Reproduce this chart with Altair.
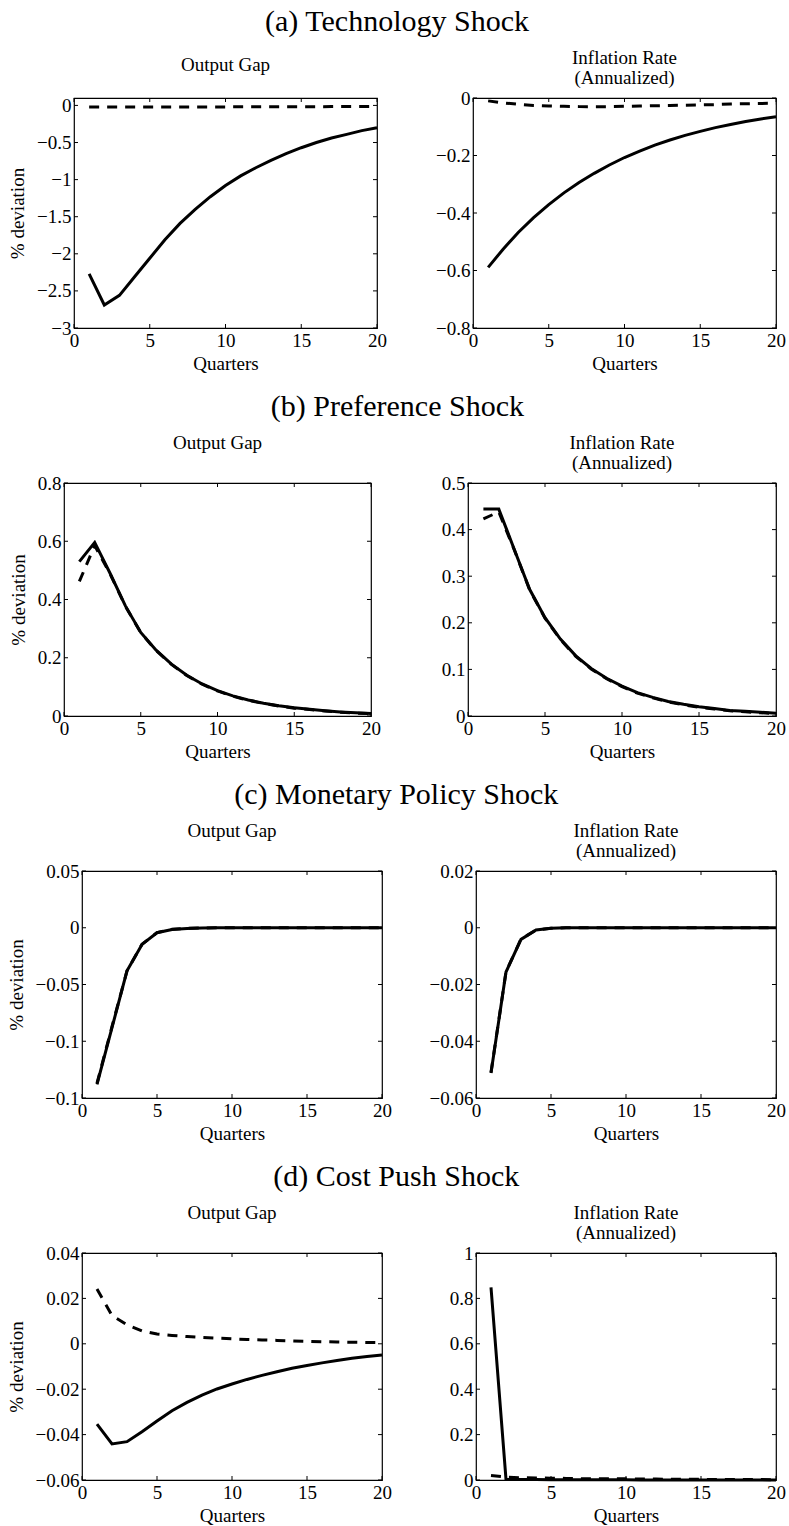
import altair as alt
import pandas as pd

FONT = "Liberation Serif"

quarters = list(range(1, 21))
x_ticks = [0, 5, 10, 15, 20]

# (a) Technology shock
tech_gap_solid = [-2.27, -2.69, -2.56, -2.31, -2.06, -1.81, -1.59, -1.40, -1.23, -1.08,
                  -0.95, -0.84, -0.74, -0.65, -0.57, -0.50, -0.44, -0.39, -0.34, -0.30]
tech_gap_dashed = [-0.020, -0.021, -0.022, -0.022, -0.022, -0.022, -0.021, -0.021, -0.020, -0.020,
                   -0.019, -0.019, -0.018, -0.018, -0.017, -0.017, -0.016, -0.016, -0.015, -0.015]
tech_inf_solid = [-0.589, -0.525, -0.467, -0.416, -0.371, -0.330, -0.294, -0.262, -0.233, -0.207,
                  -0.185, -0.164, -0.146, -0.130, -0.116, -0.103, -0.092, -0.082, -0.073, -0.065]
tech_inf_dashed = [-0.010, -0.017, -0.022, -0.026, -0.028, -0.029, -0.030, -0.030, -0.030, -0.029,
                   -0.028, -0.027, -0.026, -0.025, -0.024, -0.023, -0.021, -0.020, -0.019, -0.018]

# (b) Preference shock
pref_gap_solid = [0.530, 0.596, 0.490, 0.378, 0.287, 0.226, 0.178, 0.140, 0.110, 0.087,
                  0.069, 0.055, 0.044, 0.035, 0.028, 0.023, 0.018, 0.014, 0.011, 0.009]
pref_gap_dashed = [0.462, 0.585, 0.488, 0.377, 0.286, 0.225, 0.177, 0.139, 0.109, 0.086,
                   0.068, 0.054, 0.043, 0.034, 0.027, 0.022, 0.017, 0.013, 0.010, 0.008]
pref_inf_solid = [0.444, 0.444, 0.358, 0.272, 0.211, 0.165, 0.129, 0.102, 0.081, 0.064,
                  0.050, 0.040, 0.031, 0.025, 0.020, 0.016, 0.012, 0.010, 0.008, 0.006]
pref_inf_dashed = [0.423, 0.438, 0.357, 0.271, 0.210, 0.164, 0.128, 0.101, 0.080, 0.063,
                   0.049, 0.039, 0.030, 0.024, 0.019, 0.015, 0.011, 0.009, 0.007, 0.005]

# (c) Monetary policy shock
mon_gap_solid = [-0.138, -0.088, -0.038, -0.0147, -0.0044, -0.0015, -0.0006, -0.0002, -0.0001, 0.0,
                 0.0, 0.0, 0.0, 0.0, 0.0, 0.0, 0.0, 0.0, 0.0, 0.0]
mon_gap_dashed = [-0.137, -0.087, -0.038, -0.0145, -0.0043, -0.0014, -0.0005, -0.0002, -0.0001, 0.0,
                  0.0, 0.0, 0.0, 0.0, 0.0, 0.0, 0.0, 0.0, 0.0, 0.0]
mon_inf_solid = [-0.0512, -0.0156, -0.0041, -0.0008, -0.0002, 0.0, 0.0, 0.0, 0.0, 0.0,
                 0.0, 0.0, 0.0, 0.0, 0.0, 0.0, 0.0, 0.0, 0.0, 0.0]
mon_inf_dashed = [-0.0510, -0.0155, -0.0040, -0.0008, -0.0002, 0.0, 0.0, 0.0, 0.0, 0.0,
                  0.0, 0.0, 0.0, 0.0, 0.0, 0.0, 0.0, 0.0, 0.0, 0.0]

# (d) Cost push shock
cost_gap_solid = [-0.0354, -0.0441, -0.0431, -0.0387, -0.0340, -0.0295, -0.0258, -0.0226, -0.0199, -0.0177,
                  -0.0157, -0.0139, -0.0123, -0.0108, -0.0096, -0.0084, -0.0074, -0.0064, -0.0056, -0.0049]
cost_gap_dashed = [0.0241, 0.0125, 0.0084, 0.0057, 0.0043, 0.0037, 0.0032, 0.0028, 0.0025, 0.0022,
                   0.0019, 0.0017, 0.0015, 0.0013, 0.0011, 0.0009, 0.0008, 0.0007, 0.0006, 0.0005]
cost_inf_solid = [0.849, 0.003, 0.002, 0.002, 0.001, 0.001, 0.001, 0.001, 0.001, 0.001,
                  0.0005, 0.0005, 0.0005, 0.0005, 0.0005, 0.0005, 0.0005, 0.0005, 0.0005, 0.0005]
cost_inf_dashed = [0.020, 0.013, 0.010, 0.009, 0.008, 0.007, 0.006, 0.006, 0.005, 0.005,
                   0.004, 0.004, 0.003, 0.003, 0.003, 0.002, 0.002, 0.002, 0.002, 0.001]

section_titles = ["(a) Technology Shock", "(b) Preference Shock",
                  "(c) Monetary Policy Shock", "(d) Cost Push Shock"]
gap_title = "Output Gap"
inf_title = ["Inflation Rate", "(Annualized)"]

y_domains = {
    "tech_gap": [-3, 0.1], "tech_inf": [-0.8, 0],
    "pref_gap": [0, 0.8], "pref_inf": [0, 0.5],
    "mon_gap": [-0.15, 0.05], "mon_inf": [-0.06, 0.02],
    "cost_gap": [-0.06, 0.04], "cost_inf": [0, 1],
}
y_ticks = {
    "tech_gap": [-3, -2.5, -2, -1.5, -1, -0.5, 0],
    "tech_inf": [-0.8, -0.6, -0.4, -0.2, 0],
    "pref_gap": [0, 0.2, 0.4, 0.6, 0.8],
    "pref_inf": [0, 0.1, 0.2, 0.3, 0.4, 0.5],
    "mon_gap": [-0.15, -0.1, -0.05, 0, 0.05],
    "mon_inf": [-0.06, -0.04, -0.02, 0, 0.02],
    "cost_gap": [-0.06, -0.04, -0.02, 0, 0.02, 0.04],
    "cost_inf": [0, 0.2, 0.4, 0.6, 0.8, 1],
}

TICK = 4
FS = 19


def panel(key, solid, dashed, left, width, height):
    xs = alt.Scale(domain=[0, 20], nice=False, zero=False)
    ys = alt.Scale(domain=y_domains[key], nice=False, zero=False)
    xaxis = alt.Axis(values=x_ticks, title="Quarters", format="~g", ticks=False, tickSize=0,
                     labelPadding=3, titlePadding=4, grid=False, domain=False,
                     labelFlush=False, labelOverlap=False)
    if left:
        yaxis = alt.Axis(values=y_ticks[key], title="% deviation", format="~g", ticks=False,
                         tickSize=0, labelPadding=3, titlePadding=9, grid=False, domain=False,
                         labelFlush=False, labelOverlap=False)
        title = alt.TitleParams(gap_title, offset=21, anchor="middle", frame="group")
    else:
        yaxis = alt.Axis(values=y_ticks[key], title=None, format="~g", ticks=False,
                         tickSize=0, labelPadding=3, grid=False, domain=False,
                         labelFlush=False, labelOverlap=False)
        title = alt.TitleParams(inf_title, offset=1, anchor="middle", frame="group")

    df_s = pd.DataFrame({"q": quarters, "v": solid})
    df_d = pd.DataFrame({"q": quarters, "v": dashed})
    df_xt = pd.DataFrame({"q": x_ticks})
    df_yt = pd.DataFrame({"v": y_ticks[key]})

    X = alt.X("q:Q", scale=xs, axis=xaxis)
    Y = alt.Y("v:Q", scale=ys, axis=yaxis)

    solid_line = alt.Chart(df_s).mark_line(color="black", strokeWidth=3).encode(x=X, y=Y)
    dashed_line = alt.Chart(df_d).mark_line(color="black", strokeWidth=3, strokeDash=[10, 8]).encode(x=X, y=Y)
    tb = alt.Chart(df_xt).mark_rule(color="black", strokeWidth=1).encode(
        x=X, y=alt.value(height), y2=alt.value(height - TICK))
    tt = alt.Chart(df_xt).mark_rule(color="black", strokeWidth=1).encode(
        x=X, y=alt.value(0), y2=alt.value(TICK))
    tl = alt.Chart(df_yt).mark_rule(color="black", strokeWidth=1).encode(
        y=Y, x=alt.value(0), x2=alt.value(TICK))
    tr = alt.Chart(df_yt).mark_rule(color="black", strokeWidth=1).encode(
        y=Y, x=alt.value(width), x2=alt.value(width - TICK))

    return alt.layer(solid_line, dashed_line, tb, tt, tl, tr).properties(
        width=width, height=height, title=title)


def spacer(w):
    return alt.Chart(pd.DataFrame({"s": [0]})).mark_point(opacity=0).encode(
        x=alt.value(0), y=alt.value(0)
    ).properties(width=w, height=1, view=alt.ViewBackground(stroke="transparent"))


def row(idx, gkey, ikey, gs, gd, is_, id_, wl, wr, h, spacing, shift):
    left = panel(gkey, gs, gd, True, wl, h)
    right = panel(ikey, is_, id_, False, wr, h)
    pair = alt.hconcat(left, right, spacing=spacing, bounds="flush")
    return alt.hconcat(spacer(shift), pair, spacing=0, bounds="flush").properties(
        title=alt.TitleParams(section_titles[idx], fontSize=30, offset=11, anchor="middle",
                              lineHeight=30))


r_a = row(0, "tech_gap", "tech_inf", tech_gap_solid, tech_gap_dashed, tech_inf_solid, tech_inf_dashed,
          303, 303, 230, 96, 11)
r_b = row(1, "pref_gap", "pref_inf", pref_gap_solid, pref_gap_dashed, pref_inf_solid, pref_inf_dashed,
          307, 308, 233, 97, 1)
r_c = row(2, "mon_gap", "mon_inf", mon_gap_solid, mon_gap_dashed, mon_inf_solid, mon_inf_dashed,
          300, 300, 227, 94, 19)
r_d = row(3, "cost_gap", "cost_inf", cost_gap_solid, cost_gap_dashed, cost_inf_solid, cost_inf_dashed,
          300, 300, 227, 94, 19)

chart = alt.concat(r_a, r_b, r_c, r_d, columns=1, align="none", spacing=18).properties(
    padding={"left": 6, "top": 7, "right": 0, "bottom": 0},
    background="white",
).configure_view(
    stroke="black", strokeWidth=1.2
).configure_axis(
    labelFont=FONT, labelFontSize=FS, labelColor="black",
    titleFont=FONT, titleFontSize=FS, titleColor="black", titleFontWeight="normal",
).configure_title(
    font=FONT, fontSize=FS, fontWeight="normal", color="black", lineHeight=20,
)

chart.save("out.html", embed_options={"renderer": "svg", "actions": False})
